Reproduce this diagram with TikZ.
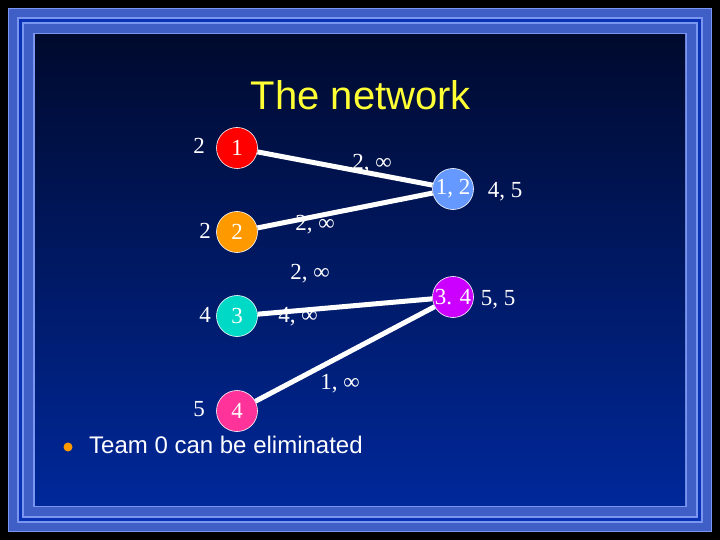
\documentclass[tikz,border=0pt]{standalone}
\usepackage{fontspec}
\setmainfont{Liberation Serif}
\setsansfont{Liberation Sans}
\definecolor{frameLight}{HTML}{7B96F0}
\definecolor{frameMid}{HTML}{3F5FC6}
\definecolor{frameDark}{HTML}{0A32B4}
\definecolor{bgTop}{HTML}{000A2E}
\definecolor{bgBottom}{HTML}{00289A}
\definecolor{teamRed}{HTML}{FF0000}
\definecolor{teamOrange}{HTML}{FF9900}
\definecolor{teamTeal}{HTML}{00D9C6}
\definecolor{teamPink}{HTML}{FF3399}
\definecolor{gameBlue}{HTML}{6699FF}
\definecolor{gamePurple}{HTML}{CC00FF}
\definecolor{titleYellow}{HTML}{FFFF33}
\begin{document}
\begin{tikzpicture}[x=1pt,y=-1pt,
    team/.style={circle,draw=white,line width=0.6pt,minimum size=41pt,inner sep=0pt,
      text=white,font=\fontsize{23}{23}\selectfont},
    lab/.style={text=white,inner sep=0pt,font=\fontsize{23}{23}\selectfont}]
  % frame
  \fill[black] (0,0) rectangle (720,540);
  \fill[frameLight] (8,8) rectangle (712,532);
  \fill[frameMid] (9,9) rectangle (711,531);
  \fill[frameLight] (17,17) rectangle (703,523);
  \fill[frameDark] (19,19) rectangle (701,521);
  \fill[frameLight] (22,22) rectangle (698,518);
  \fill[frameMid] (24,24) rectangle (696,516);
  \fill[frameLight] (33,33) rectangle (687,507);
  \shade[top color=bgTop,bottom color=bgBottom] (35,35) rectangle (685,505);
  \node[text=titleYellow,font=\sffamily\fontsize{40}{40}\selectfont] (title) at (361,95) {The network};
  \draw
    (237,148) node[team,fill=teamRed] (t1){1}
    (237,232) node[team,fill=teamOrange] (t2){2}
    (237,316) node[team,fill=teamTeal] (t3){3}
    (237,411) node[team,fill=teamPink] (t4){4}
    (453,189) node[team,fill=gameBlue] (g12){1, 2}
    (453,297) node[team,fill=gamePurple] (g34){3. 4};
  \begin{scope}[-,white,line width=5pt]
    \draw (t1) to (g12);
    \draw (t2) to (g12);
    \draw (t3) to (g34);
    \draw (t4) to (g34);
  \end{scope}
  \draw
    (199,146) node[lab] (w1){2}
    (205,231) node[lab] (w2){2}
    (205,315) node[lab] (w3){4}
    (199,409) node[lab] (w4){5}
    (505,192) node[lab] (r12){4, 5}
    (498,300) node[lab] (r34){5, 5}
    (372,164) node[lab] (c1){2, ∞}
    (315,225) node[lab] (c2){2, ∞}
    (310,274) node[lab] (c3){2, ∞}
    (298,317) node[lab] (c4){4, ∞}
    (340,384) node[lab] (c5){1, ∞};
  \fill[teamOrange] (68,447) circle (4.5pt);
  \node[anchor=base west,inner sep=0pt,text=white,font=\sffamily\fontsize{24}{24}\selectfont] (note) at (89,453) {Team 0 can be eliminated};
\end{tikzpicture}
\end{document}
